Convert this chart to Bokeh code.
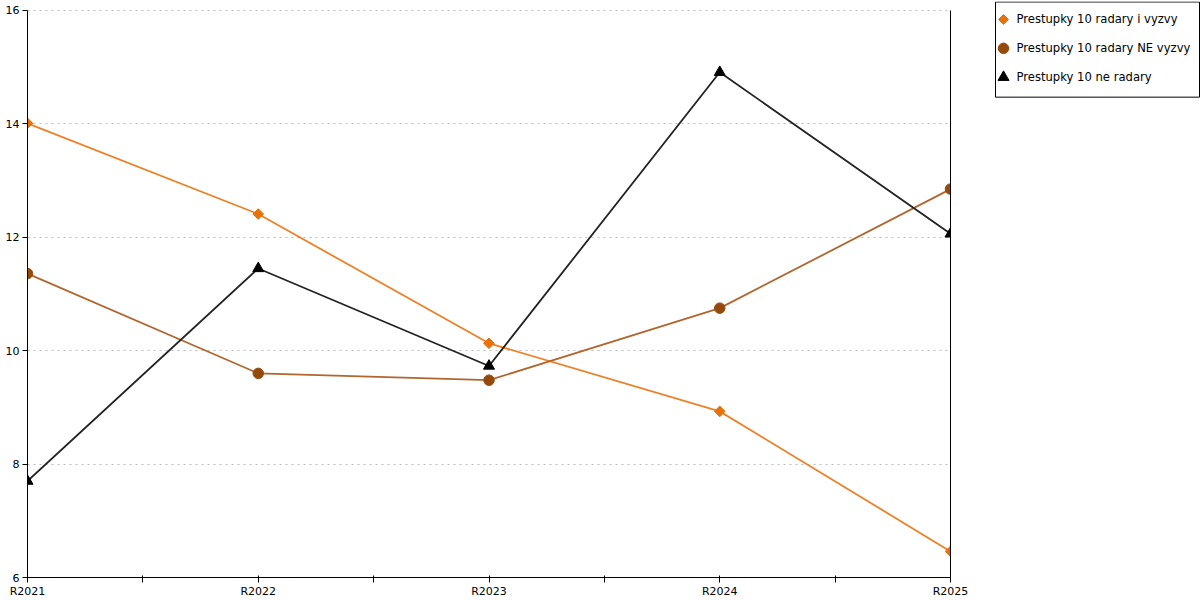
import math
from bokeh.plotting import figure
from bokeh.layouts import row
from bokeh.models import FixedTicker, Range1d, LinearAxis
from bokeh.core.properties import value
from bokeh.embed import file_html
from bokeh.resources import INLINE

categories = ["R2021", "R2022", "R2023", "R2024", "R2025"]
radary_i_vyzvy = [14.01, 12.41, 10.13, 8.93, 6.46]
radary_ne_vyzvy = [11.36, 9.60, 9.48, 10.75, 12.85]
ne_radary = [7.70, 11.45, 9.73, 14.91, 12.06]
y_ticks = [6, 8, 10, 12, 14, 16]

series_names = ["Prestupky 10 radary i vyzvy", "Prestupky 10 radary NE vyzvy", "Prestupky 10 ne radary"]

FONT = "DejaVu Sans"
Y_MIN, Y_MAX = 6, 16
TOP_PAD = 0.158  # extra headroom so the frame top can line up with the legend box

p = figure(width=970, height=600, output_backend="svg", toolbar_location=None,
           x_range=Range1d(0, len(categories) - 1), y_range=Range1d(Y_MIN, Y_MAX + TOP_PAD),
           min_border_left=27, min_border_right=20, min_border_top=1, min_border_bottom=20)
p.outline_line_color = None
p.background_fill_color = "white"
p.border_fill_color = "white"

xs = list(range(len(categories)))
ticks = [i * 0.5 for i in range(2 * (len(categories) - 1) + 1)]
p.xaxis.ticker = FixedTicker(ticks=ticks)
overrides = {}
for t in ticks:
    overrides[t] = categories[int(t)] if float(t).is_integer() else ""
p.xaxis.major_label_overrides = overrides
p.xaxis.minor_tick_line_color = None
p.xaxis.major_tick_in = 2
p.xaxis.major_tick_out = 5
p.xaxis.axis_line_color = "black"
p.xaxis.major_label_text_font = FONT
p.xaxis.major_label_text_font_size = "11px"
p.xaxis.major_label_text_color = "black"
p.xaxis.major_label_standoff = 2

p.yaxis.ticker = FixedTicker(ticks=y_ticks)
p.yaxis.bounds = (Y_MIN, Y_MAX)
p.yaxis.minor_tick_line_color = None
p.yaxis.major_tick_in = 0
p.yaxis.major_tick_out = 5
p.yaxis.major_label_text_font = FONT
p.yaxis.major_label_text_font_size = "11px"
p.yaxis.major_label_text_color = "black"
p.yaxis.major_label_standoff = 3

p.xgrid.grid_line_color = None
p.ygrid.grid_line_color = "#bbbbbb"
p.ygrid.grid_line_dash = "2 4"
p.ygrid.grid_line_width = 1

right_axis = LinearAxis(ticker=FixedTicker(ticks=[]), bounds=(Y_MIN, Y_MAX),
                        axis_line_color="black", axis_line_width=1,
                        major_tick_line_color=None, minor_tick_line_color=None,
                        major_label_text_font_size="0px")
p.add_layout(right_axis, "right")

colors_line = ["#EE8128", "#B0662E", "#222222"]
colors_mark = ["#E8710A", "#954A0C", "#000000"]

p.line(xs, radary_i_vyzvy, line_color=colors_line[0], line_width=1.8)
p.scatter(xs, radary_i_vyzvy, marker="square", angle=math.pi / 4, size=7.5,
          fill_color=colors_mark[0], line_color=colors_mark[0])
p.line(xs, radary_ne_vyzvy, line_color=colors_line[1], line_width=1.8)
p.scatter(xs, radary_ne_vyzvy, marker="circle", size=10.5,
          fill_color=colors_mark[1], line_color=colors_mark[1])
p.line(xs, ne_radary, line_color=colors_line[2], line_width=1.8)
p.scatter(xs, ne_radary, marker="triangle", size=11,
          fill_color=colors_mark[2], line_color=colors_mark[2])

# legend panel: pixel-like coordinates (x right, y down)
lg = figure(width=230, height=600, output_backend="svg", toolbar_location=None,
            x_range=Range1d(0, 206), y_range=Range1d(578, 0),
            min_border_left=24, min_border_right=0, min_border_top=1, min_border_bottom=20)
lg.axis.visible = False
lg.grid.visible = False
lg.outline_line_color = None
lg.background_fill_color = "white"
lg.border_fill_color = "white"

lg.quad(left=[1], right=[205], top=[0.5], bottom=[96], fill_color="white",
        line_color="black", line_width=1)

legend_markers = ["square", "circle", "triangle"]
legend_angles = [math.pi / 4, 0, 0]
legend_sizes = [7, 10.5, 11]
for i, name in enumerate(series_names):
    yy = 18 + 29 * i
    lg.scatter([9], [yy], marker=legend_markers[i], size=legend_sizes[i], angle=legend_angles[i],
               fill_color=colors_mark[i], line_color=colors_mark[i])
    lg.text([22], [yy], text=[name], text_font=value(FONT), text_font_size="11.6px",
            text_baseline="middle", text_align="left", text_color="black")

layout = row(p, lg, spacing=0)
open("out.html", "w").write(file_html(layout, INLINE))
